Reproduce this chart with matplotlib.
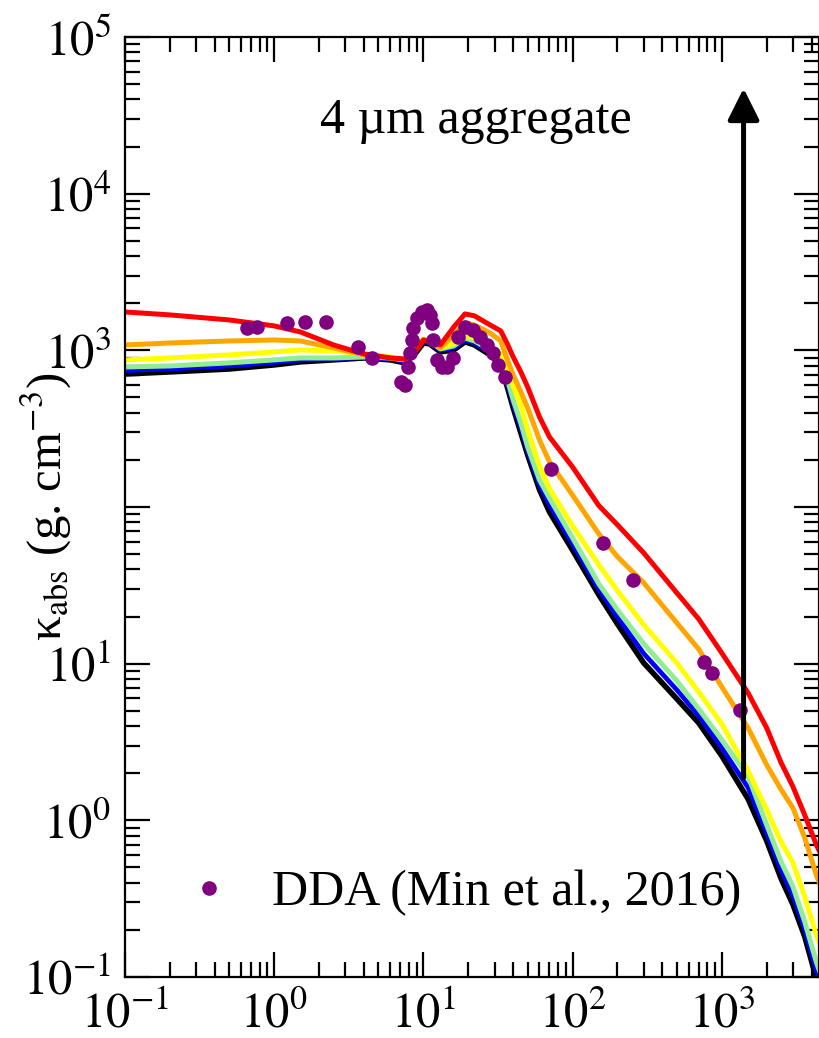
import matplotlib
matplotlib.use("Agg")
import matplotlib.pyplot as plt
from matplotlib.ticker import LogLocator, NullFormatter

plt.rcParams['font.family'] = ['Liberation Serif', 'DejaVu Serif']
plt.rcParams['mathtext.fontset'] = 'stix'

# ---------------- data ----------------
wavelength = [0.1, 0.2, 0.5, 1.0, 1.5, 2.5, 4, 6, 7.5, 9, 10, 11, 13, 16, 19, 22, 28, 33,
              36, 40, 45, 50, 60, 70, 100, 150, 200, 300, 500, 700, 1000, 1500, 2000, 2500,
              3000, 3600, 4300, 5000]

kabs_black = [706, 728, 760, 807, 844, 869, 894, 869, 832, 977, 1114, 1099, 977, 1006, 1133, 1082, 935, 807,
              611, 429, 297, 215, 129, 93, 53, 27.5, 17.9, 10.1, 5.96, 4.19, 2.58, 1.37, 0.74, 0.424,
              0.29, 0.181, 0.098, 0.066]
kabs_blue = [743, 761, 795, 837, 869, 881, 900, 881, 850, 1006, 1139, 1123, 999, 1036, 1166, 1114, 970, 837,
             648, 455, 320, 228, 139, 103, 58, 29.8, 19.8, 11.6, 6.8, 4.65, 2.9, 1.62, 0.83, 0.48,
             0.33, 0.202, 0.11, 0.074]
kabs_green = [783, 795, 832, 869, 894, 894, 907, 894, 869, 1036, 1165, 1148, 1021, 1067, 1199, 1148, 1006, 869,
              687, 482, 344, 242, 149, 114, 63.5, 32.3, 22.0, 13.4, 7.76, 5.15, 3.27, 1.92, 0.935, 0.543,
              0.377, 0.225, 0.125, 0.083]
kabs_yellow = [869, 894, 935, 977, 1006, 991, 948, 907, 881, 1051, 1182, 1165, 1036, 1099, 1236, 1199, 1067, 948,
               772, 593, 449, 310, 183, 131, 75.7, 42.7, 29.2, 17.7, 10.1, 6.61, 4.13, 2.07, 1.17, 0.729,
               0.536, 0.325, 0.186, 0.125]
kabs_orange = [1082, 1114, 1148, 1165, 1148, 1036, 935, 894, 869, 1021, 1165, 1148, 1036, 1253, 1496, 1452, 1291, 1148,
               907, 697, 543, 429, 268, 194, 119, 67.3, 48.1, 32.8, 18.2, 12.4, 7.11, 3.89, 2.26, 1.57,
               1.20, 0.773, 0.449, 0.311]
kabs_red = [1758, 1683, 1563, 1432, 1310, 1082, 948, 894, 881, 1006, 1165, 1132, 1082, 1410, 1708, 1660, 1452, 1330,
            1132, 907, 728, 583, 376, 280, 180, 102, 76.9, 50.9, 28.3, 19.3, 11.7, 6.51, 3.89, 2.33,
            1.64, 1.08, 0.70, 0.52]

dda_x = [0.656, 0.766, 1.22, 1.61, 2.22, 3.64, 4.51, 7.1, 7.5, 7.86, 8.11, 8.36, 8.49, 9.03, 9.75, 10.5, 11.0,
         11.4, 11.6, 12.3, 13.3, 14.4, 15.7, 17.0, 18.9, 21.4, 23.9, 26.6, 29.2, 31.5, 35.1,
         71.3, 161, 253, 755, 855, 1315]
dda_y = [1390, 1410, 1496, 1518, 1518, 1051, 894, 630, 601, 783, 962, 1165, 1390, 1610, 1758, 1811, 1683,
         1496, 1165, 869, 783, 783, 894, 1218, 1410, 1349, 1218, 1082, 962, 807, 676,
         175, 59.0, 34.3, 10.3, 8.73, 5.07]

arrow_x = 1400
arrow_y_start = 1.87
arrow_y_end = 4.7e4

xtick_vals = [0.1, 1, 10, 100, 1000]
xtick_labels = [r'$10^{-1}$', r'$10^{0}$', r'$10^{1}$', r'$10^{2}$', r'$10^{3}$']
ytick_vals = [0.1, 1, 10, 100, 1000, 1e4, 1e5]
ytick_labels = [r'$10^{-1}$', r'$10^{0}$', r'$10^{1}$', '', r'$10^{3}$', r'$10^{4}$', r'$10^{5}$']

series = [(kabs_black, 'black', 4.0), (kabs_blue, '#0000FF', 3.4), (kabs_green, '#90EE90', 3.6),
          (kabs_yellow, '#FFFF00', 3.6), (kabs_orange, '#FFA500', 3.6), (kabs_red, '#FF0000', 3.6)]

# ---------------- figure ----------------
fig = plt.figure(figsize=(8.2, 10.38), dpi=100)
ax = fig.add_axes([125/820, 61/1038, 694.5/820, 940/1038])

for vals, col, lw in series:
    ax.plot(wavelength, vals, color=col, lw=lw, solid_capstyle='butt',
            solid_joinstyle='round', zorder=2)

ax.plot(dda_x, dda_y, 'o', color='#800080', ms=10.5, mec='none', zorder=4,
        label='DDA (Min et al., 2016)')

ax.annotate('', xy=(arrow_x, arrow_y_end), xytext=(arrow_x, arrow_y_start),
            arrowprops=dict(arrowstyle='-|>,head_length=0.48,head_width=0.24', lw=3.6,
                            color='black', mutation_scale=40, shrinkA=0, shrinkB=0), zorder=5)

ax.text(0.505, 0.898, '4 µm aggregate', transform=ax.transAxes, ha='center', va='baseline',
        fontsize=36)

ax.set_xscale('log')
ax.set_yscale('log')
ax.set_xlim(0.1, 4520)
ax.set_ylim(0.1, 1e5)

ax.set_xticks(xtick_vals, xtick_labels)
ax.set_yticks(ytick_vals, ytick_labels)
ax.xaxis.set_minor_locator(LogLocator(base=10, subs=range(2, 10), numticks=20))
ax.yaxis.set_minor_locator(LogLocator(base=10, subs=range(2, 10), numticks=20))
ax.xaxis.set_minor_formatter(NullFormatter())
ax.yaxis.set_minor_formatter(NullFormatter())

ax.tick_params(which='both', direction='in', top=True, right=True, width=1.6, labelsize=35)
ax.tick_params(which='major', length=18)
ax.tick_params(which='minor', length=10.5)
ax.tick_params(axis='x', which='major', pad=11)
ax.tick_params(axis='y', which='major', pad=10)
for sp in ax.spines.values():
    sp.set_linewidth(1.6)

ax.set_ylabel('κ$_{\\rm abs}$ (g. cm$^{-3}$)', fontsize=35)
ax.yaxis.set_label_coords(-0.074, 0.5)

leg = ax.legend(loc='center left', bbox_to_anchor=(0.085, 0.0894), frameon=False, fontsize=36,
                handlelength=1.0, handletextpad=0.76, borderpad=0, borderaxespad=0, numpoints=1)

fig.savefig('out.png', dpi=100)
